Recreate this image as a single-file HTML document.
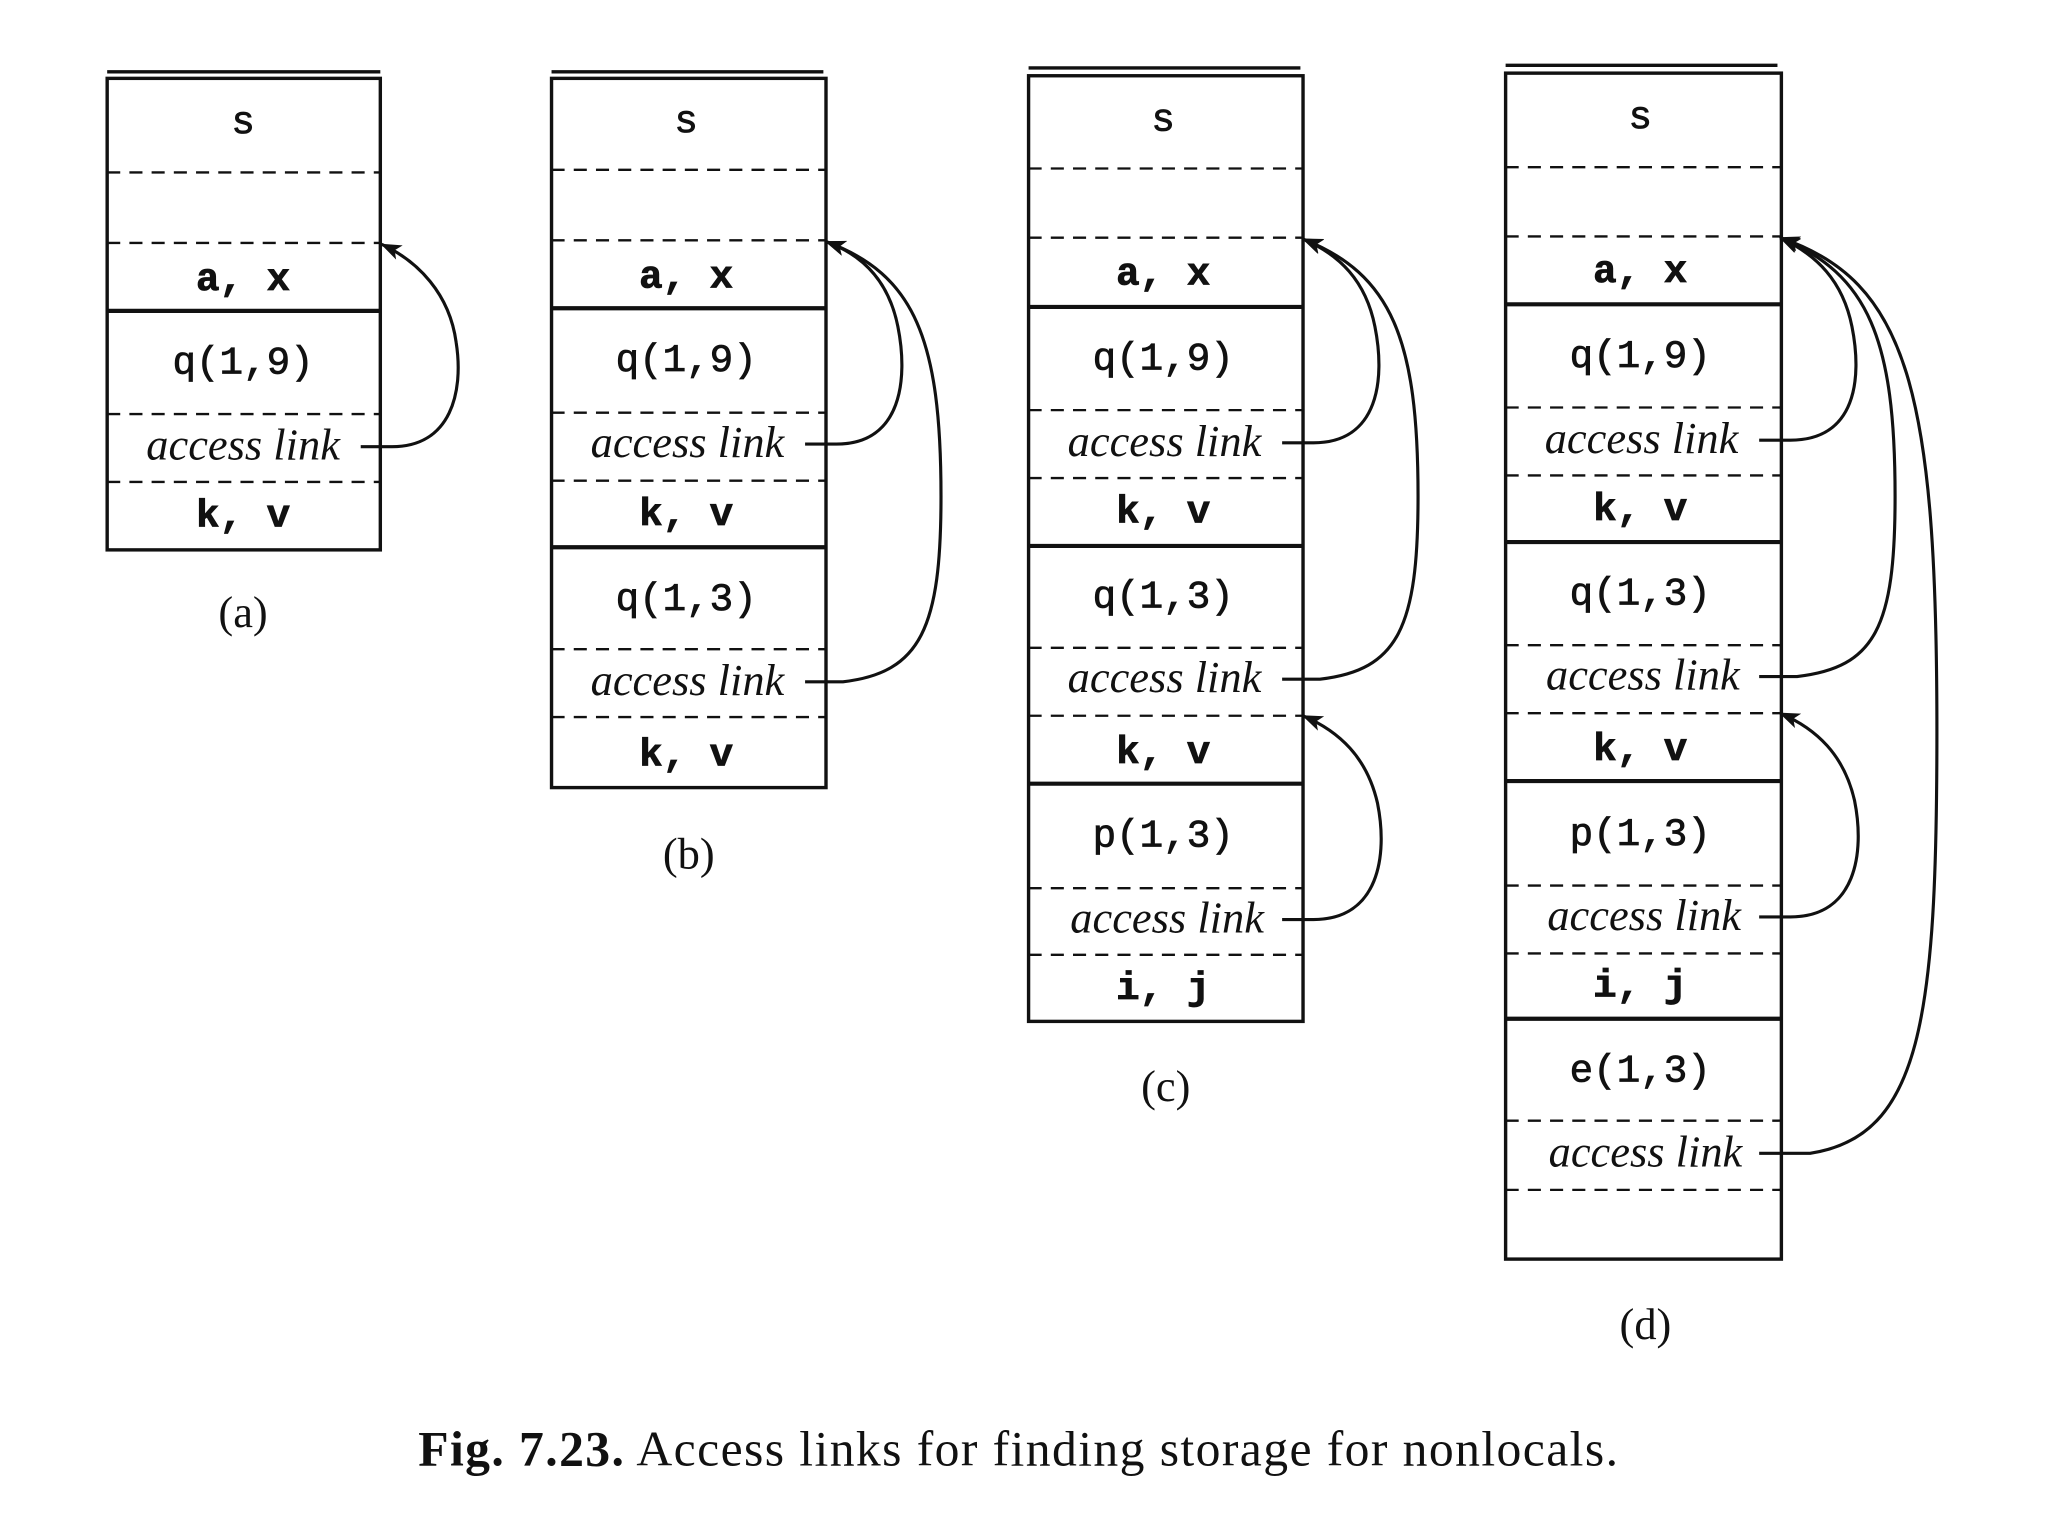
<!DOCTYPE html>
<html><head><meta charset="utf-8"><style>html,body{margin:0;padding:0;background:#fff}svg{display:block}</style></head>
<body>
<svg width="2048" height="1536" viewBox="0 0 1567 1176" preserveAspectRatio="none" xmlns="http://www.w3.org/2000/svg">
<defs>
<marker id="ah" viewBox="0 0 16 12" refX="15" refY="6" markerWidth="16" markerHeight="12" markerUnits="userSpaceOnUse" orient="auto">
<path d="M0,0 L16,6 L0,12 L4,6 z" fill="#111"/>
</marker>
</defs>
<g stroke="#111" fill="none" stroke-width="2.6">
<rect x="82" y="60" width="209" height="361"/>
<line x1="82" y1="55" x2="291" y2="55"/>
<line x1="82" y1="238" x2="291" y2="238" stroke-width="3.2"/>
<g stroke-dasharray="10,7" stroke-width="1.8">
<line x1="82" y1="132" x2="291" y2="132"/><line x1="82" y1="186" x2="291" y2="186"/>
<line x1="82" y1="317" x2="291" y2="317"/><line x1="82" y1="369" x2="291" y2="369"/>
</g>
<rect x="422" y="60" width="210" height="543"/>
<line x1="422" y1="55" x2="630" y2="55"/>
<line x1="422" y1="236" x2="632" y2="236" stroke-width="3.2"/>
<line x1="422" y1="419" x2="632" y2="419" stroke-width="3.2"/>
<g stroke-dasharray="10,7" stroke-width="1.8">
<line x1="422" y1="130" x2="632" y2="130"/><line x1="422" y1="184" x2="632" y2="184"/>
<line x1="422" y1="316" x2="632" y2="316"/><line x1="422" y1="368" x2="632" y2="368"/>
<line x1="422" y1="497" x2="632" y2="497"/><line x1="422" y1="549" x2="632" y2="549"/>
</g>
<rect x="787" y="58" width="210" height="724"/>
<line x1="787" y1="52" x2="995" y2="52"/>
<line x1="787" y1="235" x2="997" y2="235" stroke-width="3.2"/>
<line x1="787" y1="418" x2="997" y2="418" stroke-width="3.2"/>
<line x1="787" y1="600" x2="997" y2="600" stroke-width="3.2"/>
<g stroke-dasharray="10,7" stroke-width="1.8">
<line x1="787" y1="129" x2="997" y2="129"/><line x1="787" y1="182" x2="997" y2="182"/>
<line x1="787" y1="314" x2="997" y2="314"/><line x1="787" y1="366" x2="997" y2="366"/>
<line x1="787" y1="496" x2="997" y2="496"/><line x1="787" y1="548" x2="997" y2="548"/>
<line x1="787" y1="680" x2="997" y2="680"/><line x1="787" y1="731" x2="997" y2="731"/>
</g>
<rect x="1152" y="56" width="211" height="908"/>
<line x1="1152" y1="50" x2="1360" y2="50"/>
<line x1="1152" y1="233" x2="1363" y2="233" stroke-width="3.2"/>
<line x1="1152" y1="415" x2="1363" y2="415" stroke-width="3.2"/>
<line x1="1152" y1="598" x2="1363" y2="598" stroke-width="3.2"/>
<line x1="1152" y1="780" x2="1363" y2="780" stroke-width="3.2"/>
<g stroke-dasharray="10,7" stroke-width="1.8">
<line x1="1152" y1="128" x2="1363" y2="128"/><line x1="1152" y1="181" x2="1363" y2="181"/>
<line x1="1152" y1="312" x2="1363" y2="312"/><line x1="1152" y1="364" x2="1363" y2="364"/>
<line x1="1152" y1="494" x2="1363" y2="494"/><line x1="1152" y1="546" x2="1363" y2="546"/>
<line x1="1152" y1="678" x2="1363" y2="678"/><line x1="1152" y1="730" x2="1363" y2="730"/>
<line x1="1152" y1="858" x2="1363" y2="858"/><line x1="1152" y1="911" x2="1363" y2="911"/>
</g>
<g stroke-width="2.4" marker-end="url(#ah)">
<path d="M276 342 H300 C345 342 355 300 349 262 C344 225 320 200 292 187"/>
<path d="M616 340 H640 C690 340 695 290 687 250 C680 215 660 195 632 185"/>
<path d="M616 522 H645 C705 515 720 480 720 380 C720 260 700 210 632 185"/>
<path d="M981 339 H1005 C1055 339 1060 290 1052 250 C1045 215 1025 195 997 183"/>
<path d="M981 520 H1010 C1070 513 1085 480 1085 380 C1085 260 1065 210 997 183"/>
<path d="M981 704 H1005 C1055 704 1062 655 1054 615 C1046 580 1025 560 997 548"/>
<path d="M1346 337 H1370 C1420 337 1425 290 1417 250 C1410 215 1390 195 1362 182"/>
<path d="M1346 518 H1375 C1435 511 1450 480 1450 380 C1450 260 1430 210 1362 182"/>
<path d="M1346 702 H1370 C1420 702 1427 653 1419 613 C1411 578 1390 558 1362 546"/>
<path d="M1346 883 H1385 C1470 870 1482 780 1482 560 C1482 300 1460 215 1362 182"/>
</g>
</g>
<g fill="#111" font-family="Liberation Mono, monospace" font-size="30" text-anchor="middle" stroke="#111" stroke-width="0.6">
<text x="186" y="102">s</text><text x="186" y="222" font-weight="bold">a, x</text>
<text x="186" y="286">q(1,9)</text><text x="186" y="403" font-weight="bold">k, v</text>
<text x="525" y="101">s</text><text x="525" y="220" font-weight="bold">a, x</text>
<text x="525" y="284">q(1,9)</text><text x="525" y="402" font-weight="bold">k, v</text>
<text x="525" y="467">q(1,3)</text><text x="525" y="586" font-weight="bold">k, v</text>
<text x="890" y="100">s</text><text x="890" y="218" font-weight="bold">a, x</text>
<text x="890" y="283">q(1,9)</text><text x="890" y="400" font-weight="bold">k, v</text>
<text x="890" y="465">q(1,3)</text><text x="890" y="584" font-weight="bold">k, v</text>
<text x="890" y="648">p(1,3)</text><text x="890" y="765" font-weight="bold">i, j</text>
<text x="1255" y="98">s</text><text x="1255" y="216" font-weight="bold">a, x</text>
<text x="1255" y="281">q(1,9)</text><text x="1255" y="398" font-weight="bold">k, v</text>
<text x="1255" y="463">q(1,3)</text><text x="1255" y="582" font-weight="bold">k, v</text>
<text x="1255" y="647">p(1,3)</text><text x="1255" y="763" font-weight="bold">i, j</text>
<text x="1255" y="828">e(1,3)</text>
</g>
<g fill="#111" font-family="Liberation Serif, serif" font-size="34" font-style="italic" text-anchor="middle">
<text x="186" y="352">access link</text>
<text x="526" y="350">access link</text><text x="526" y="532">access link</text>
<text x="891" y="349">access link</text><text x="891" y="530">access link</text><text x="893" y="714">access link</text>
<text x="1256" y="347">access link</text><text x="1257" y="528">access link</text><text x="1258" y="712">access link</text><text x="1259" y="893">access link</text>
</g>
<g fill="#111" font-family="Liberation Serif, serif" font-size="34" text-anchor="middle">
<text x="186" y="480">(a)</text><text x="527" y="665">(b)</text><text x="892" y="843">(c)</text><text x="1259" y="1025">(d)</text>
</g>
<text x="320" y="1122" fill="#111" font-family="Liberation Serif, serif" font-size="38" textLength="918" lengthAdjust="spacing"><tspan font-weight="bold">Fig. 7.23.</tspan>  Access links for finding storage for nonlocals.</text>
</svg>
</body></html>
